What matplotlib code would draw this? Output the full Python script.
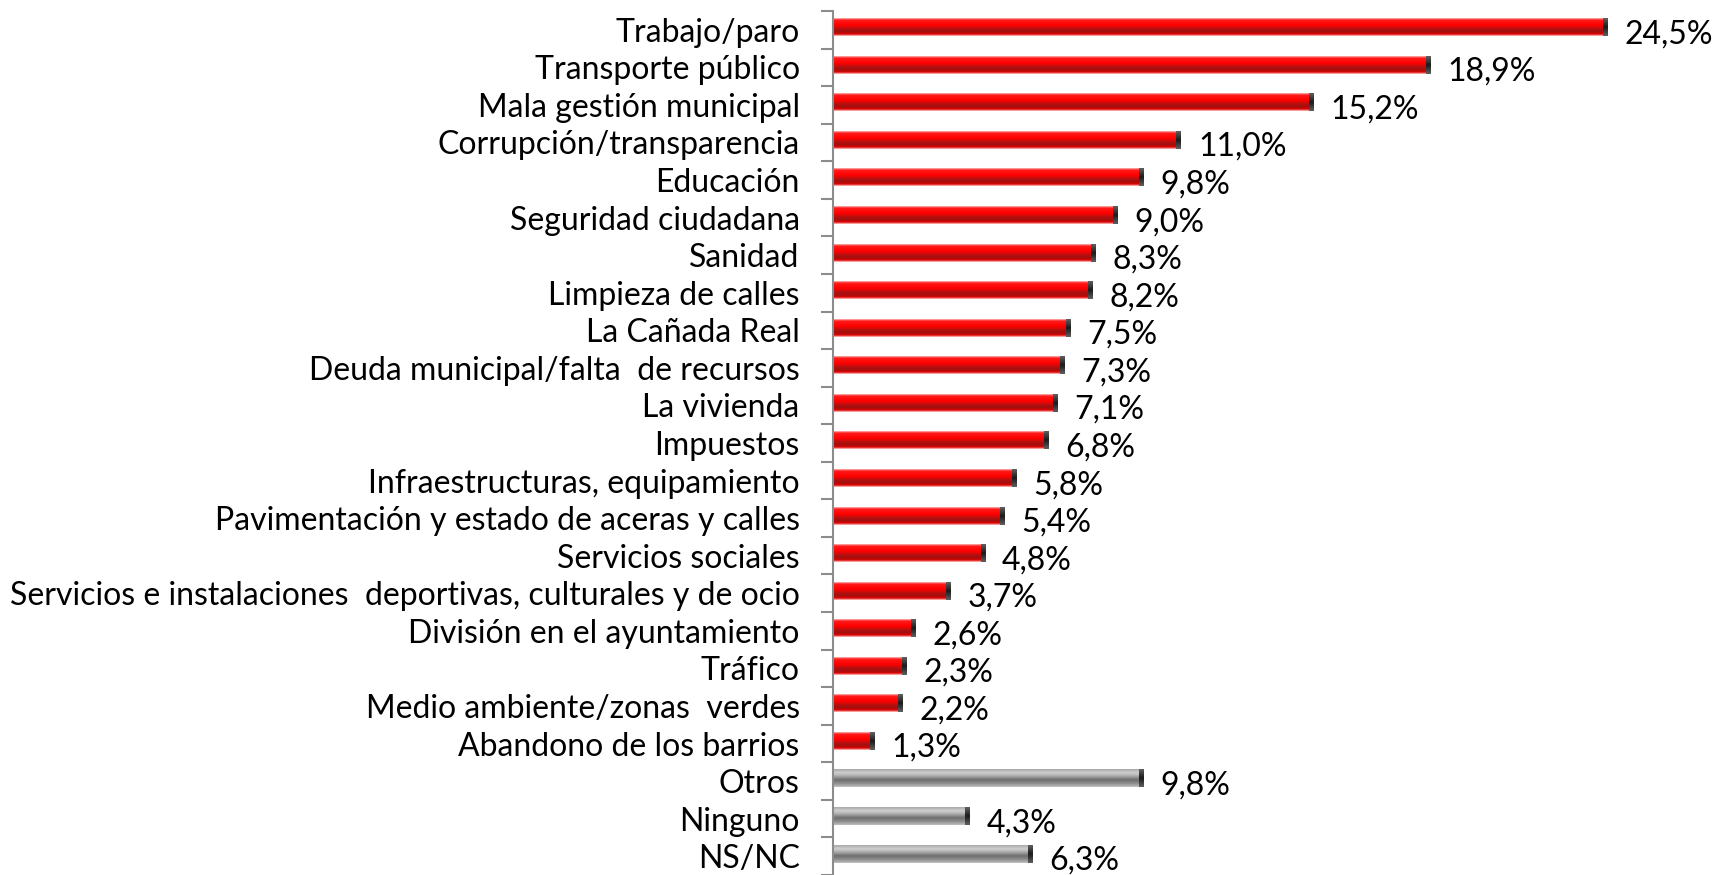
import numpy as np
import matplotlib.pyplot as plt
from matplotlib.colors import LinearSegmentedColormap

# Datos (porcentaje de menciones)
categorias = [
    "Trabajo/paro", "Transporte público", "Mala gestión municipal",
    "Corrupción/transparencia", "Educación", "Seguridad ciudadana",
    "Sanidad", "Limpieza de calles", "La Cañada Real",
    "Deuda municipal/falta  de recursos", "La vivienda", "Impuestos",
    "Infraestructuras, equipamiento",
    "Pavimentación y estado de aceras y calles", "Servicios sociales",
    "Servicios e instalaciones  deportivas, culturales y de ocio",
    "División en el ayuntamiento", "Tráfico",
    "Medio ambiente/zonas  verdes", "Abandono de los barrios",
    "Otros", "Ninguno", "NS/NC",
]
valores = [24.5, 18.9, 15.2, 11.0, 9.8, 9.0, 8.3, 8.2, 7.5, 7.3, 7.1, 6.8,
           5.8, 5.4, 4.8, 3.7, 2.6, 2.3, 2.2, 1.3, 9.8, 4.3, 6.3]
grises = ["Otros", "Ninguno", "NS/NC"]

plt.rcParams['font.family'] = ['Lato', 'DejaVu Sans']

# degradados tipo cilindro (de arriba a abajo)
rojo = LinearSegmentedColormap.from_list("rojo", [
    (0.0, "#ffb8b8"), (0.1, "#ff1a1a"), (0.4, "#ff0000"),
    (0.6, "#b81010"), (0.75, "#a01010"), (0.9, "#e00000"), (1.0, "#ffc8c8")])
gris = LinearSegmentedColormap.from_list("gris", [
    (0.0, "#a8a8a8"), (0.2, "#d0d0d0"), (0.35, "#b4b4b4"),
    (0.6, "#6e6e6e"), (0.8, "#8c8c8c"), (1.0, "#c0c0c0")])
tapa = LinearSegmentedColormap.from_list("tapa", ["#606060", "#1a1a1a", "#606060"])

fig = plt.figure(figsize=(17.2, 8.75), dpi=100)
ax = fig.add_axes([833 / 1720, 0.0, 1 - 833 / 1720, 1 - 11 / 875])

n = len(categorias)
ax.set_xlim(0, 887 / 31.6)
ax.set_ylim(n - 0.5, -0.5)

grad = np.linspace(0, 1, 64).reshape(-1, 1)
alto = 0.46
for i, (cat, v) in enumerate(zip(categorias, valores)):
    cmap = gris if cat in grises else rojo
    yc = i - 0.06
    ax.imshow(grad, cmap=cmap, aspect='auto', interpolation='bilinear',
              extent=(0, v, yc + alto / 2, yc - alto / 2), zorder=2)
    ax.imshow(grad, cmap=tapa, aspect='auto', interpolation='bilinear',
              extent=(v - 0.13, v, yc + alto / 2, yc - alto / 2), zorder=3)
    ax.text(v + 0.55, i + 0.12, f"{v:.1f}%".replace(".", ","),
            va='center', ha='left', fontsize=23, color='black', clip_on=False)

ax.set_yticks(range(n))
ax.set_yticklabels(categorias, fontsize=23)
ax.tick_params(axis='y', which='major', length=0, pad=24)
ax.set_yticks(np.arange(-0.5, n, 1), minor=True)
ax.tick_params(axis='y', which='minor', length=9, width=1.5, color='#8c8c8c')
ax.set_xticks([])

for s in ['top', 'right', 'bottom']:
    ax.spines[s].set_visible(False)
ax.spines['left'].set_color('#8c8c8c')
ax.spines['left'].set_linewidth(1.5)

fig.savefig("out.png", dpi=100)
